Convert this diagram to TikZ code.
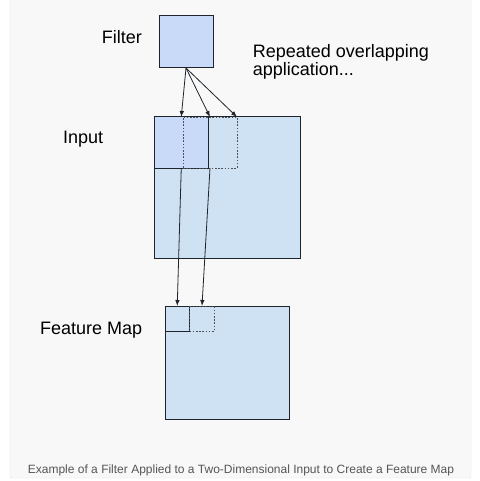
\documentclass[tikz,border=0pt]{standalone}
\usepackage{fontspec}
\setmainfont{Liberation Sans}
\usetikzlibrary{arrows.meta}
\definecolor{panelbg}{HTML}{F8F8F8}
\definecolor{panelrule}{HTML}{E3E3E3}
\definecolor{filterblue}{HTML}{C9DAF8}
\definecolor{inputblue}{HTML}{CFE2F3}
\definecolor{edge}{HTML}{1F232B}
\definecolor{captiongray}{HTML}{555555}
\tikzset{
  box/.style={draw=edge, line width=1pt, inner sep=0pt, outer sep=0pt, anchor=north west},
  slide/.style={box, draw=edge!80, line width=0.8pt, dash pattern=on 1.6pt off 1.6pt},
  label/.style={inner sep=0pt, anchor=base west, font=\fontsize{18}{18.6}\selectfont},
  flow/.style={draw=edge, line width=0.8pt, -{Latex[length=6pt,width=4.5pt]}}
}
\begin{document}
\begin{tikzpicture}[x=1pt, y=-1pt]
 \useasboundingbox (0,0) rectangle (479,481);
 \fill[white] (0,0) rectangle (479,481);
 \draw[panelrule, fill=panelbg, rounded corners=2pt] (10,-5) rectangle (471,478);

 \node[box, fill=filterblue, minimum width=54pt, minimum height=52pt] (filter) at (159,16) {};
 \node[box, fill=inputblue, minimum width=146.5pt, minimum height=141.5pt] (input) at (154,117) {};
 \node[box, fill=filterblue, minimum width=54.5pt, minimum height=51pt] (win1) at (154,117) {};
 \node[slide, minimum width=54pt, minimum height=51pt] (win2) at (183,117) {};
 \coordinate (win3) at (237,117);

 \node[box, fill=inputblue, minimum width=124.5pt, minimum height=113pt] (fmap) at (165,306) {};
 \node[box, minimum width=24.5pt, minimum height=25pt] (fwin1) at (165,306) {};
 \node[slide, minimum width=25pt, minimum height=25pt] (fwin2) at (189.5,306) {};

 \draw[flow] (filter.south) -- (win1.north);
 \draw[flow] (filter.south) -- (win2.north);
 \draw[flow] (filter.south) -- (win3);
 \draw[flow] (win1.south) -- (fwin1.north);
 \draw[flow] (win2.south) -- (fwin2.north);

 \node[label] (filterlabel) at (101.7,44) {Filter};
 \node[label] (inputlabel) at (63,143.5) {Input};
 \node[label] (fmaplabel) at (40,334) {Feature Map};
 \node[label, align=left] (repeatlabel) at (252.7,75.7) {Repeated overlapping\\application...};
 \node[inner sep=0pt, anchor=base, text=captiongray, font=\fontsize{12}{14}\selectfont] (caption) at (241,473)
   {Example of a Filter Applied to a Two-Dimensional Input to Create a Feature Map};
\end{tikzpicture}
\end{document}
